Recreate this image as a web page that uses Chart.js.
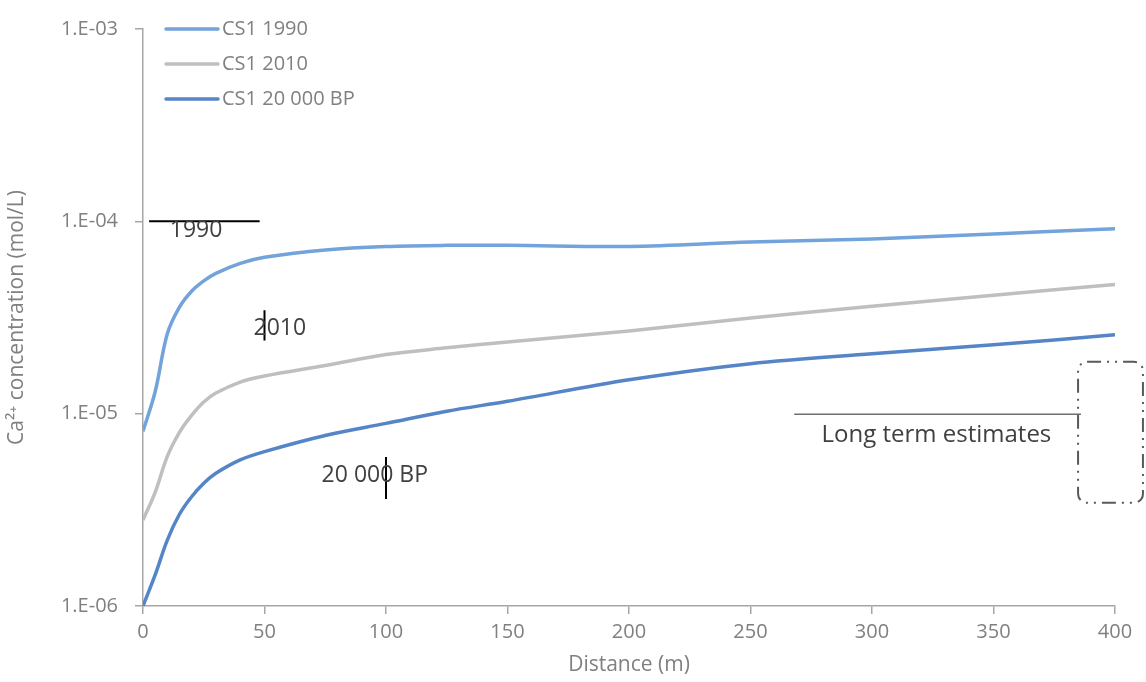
<!DOCTYPE html>
<html>
<head>
<meta charset="utf-8">
<script src="https://cdn.jsdelivr.net/npm/chart.js@4.4.1/dist/chart.umd.min.js"></script>
<style>
  html, body { margin: 0; padding: 0; background: #fff; }
  #wrap { width: 1146px; height: 682px; position: relative; }
</style>
</head>
<body>
<div id="wrap"><canvas id="caChart" width="1146" height="682"></canvas></div>
<script>
// distances (m) and Ca2+ concentrations (mol/L)
const distance = [0, 5, 10, 15, 20, 25, 30, 40, 50, 75, 100, 125, 150, 200, 250, 300, 350, 400];
const cs1990 = [8.1e-6, 1.3e-5, 2.6e-5, 3.58e-5, 4.33e-5, 4.9e-5, 5.36e-5, 6.04e-5, 6.5e-5, 7.1e-5, 7.4e-5, 7.5e-5, 7.5e-5, 7.4e-5, 7.8e-5, 8.1e-5, 8.6e-5, 9.15e-5];
const cs2010 = [2.8e-6, 3.9e-6, 6.0e-6, 8.0e-6, 9.8e-6, 1.15e-5, 1.28e-5, 1.46e-5, 1.57e-5, 1.78e-5, 2.03e-5, 2.2e-5, 2.36e-5, 2.69e-5, 3.14e-5, 3.62e-5, 4.13e-5, 4.7e-5];
const cs20000 = [1.0e-6, 1.45e-6, 2.2e-6, 3.0e-6, 3.7e-6, 4.35e-6, 4.9e-6, 5.75e-6, 6.35e-6, 7.7e-6, 8.9e-6, 1.03e-5, 1.16e-5, 1.5e-5, 1.82e-5, 2.05e-5, 2.28e-5, 2.57e-5];
const seriesNames = ['CS1 1990', 'CS1 2010', 'CS1 20 000 BP'];
const xTicks = [0, 50, 100, 150, 200, 250, 300, 350, 400];
const yTicks = [1e-6, 1e-5, 1e-4, 1e-3];
const yTickLabels = ['1.E-06', '1.E-05', '1.E-04', '1.E-03'];

const FONT = '"Open Sans", Lato, sans-serif';
const axisGrey = '#a6a6a6';
const textGrey = '#808080';
const noteColor = '#404040';

function pts(ys) {
  return distance.map((d, i) => ({ x: d, y: ys[i] }));
}

// legend drawn in the top-left corner of the plot
const legendPlugin = {
  id: 'cornerLegend',
  afterDraw(chart) {
    const ctx = chart.ctx;
    const area = chart.chartArea;
    ctx.save();
    chart.data.datasets.forEach((ds, i) => {
      const y = area.top + i * 35;
      ctx.strokeStyle = ds.borderColor;
      ctx.lineWidth = 3.5;
      ctx.lineCap = 'round';
      ctx.beginPath();
      ctx.moveTo(area.left + 23, y);
      ctx.lineTo(area.left + 75, y);
      ctx.stroke();
      ctx.fillStyle = textGrey;
      ctx.font = '20px ' + FONT;
      ctx.textBaseline = 'middle';
      ctx.textAlign = 'left';
      ctx.fillText(ds.label, area.left + 79, y);
    });
    ctx.restore();
  }
};

// period labels and markers
const notesPlugin = {
  id: 'notes',
  afterDraw(chart) {
    const ctx = chart.ctx;
    const xs = chart.scales.x;
    const ys = chart.scales.y;
    const px = v => xs.getPixelForValue(v);
    const py = v => ys.getPixelForValue(v);
    ctx.save();
    ctx.strokeStyle = '#000';
    ctx.lineWidth = 2;
    ctx.lineCap = 'butt';

    // 1990 marker
    ctx.beginPath();
    ctx.moveTo(px(2.5), py(1e-4));
    ctx.lineTo(px(48), py(1e-4));
    ctx.stroke();
    // 2010 marker
    ctx.beginPath();
    ctx.moveTo(px(50), py(3.45e-5));
    ctx.lineTo(px(50), py(2.4e-5));
    ctx.stroke();
    // 20 000 BP marker
    ctx.beginPath();
    ctx.moveTo(px(100), py(5.95e-6));
    ctx.lineTo(px(100), py(3.6e-6));
    ctx.stroke();

    ctx.fillStyle = noteColor;
    ctx.font = '23px ' + FONT;
    ctx.textBaseline = 'middle';
    ctx.textAlign = 'left';
    ctx.fillText('1990', px(11), py(1e-4) + 9);
    ctx.fillText('2010', px(45.5), py(2.76e-5));
    ctx.fillText('20 000 BP', px(73.5), py(4.8e-6));
    ctx.textAlign = 'center';
    ctx.font = '24px ' + FONT;
    ctx.fillText('Long term estimates', px(326.5), py(1e-5) + 21);

    // thin rule above "Long term estimates"
    ctx.strokeStyle = '#262626';
    ctx.lineWidth = 1;
    ctx.beginPath();
    ctx.moveTo(px(268), py(1e-5) + 0.5);
    ctx.lineTo(px(386), py(1e-5) + 0.5);
    ctx.stroke();

    // dash-dot rounded frame at the far end
    const x0 = px(384.8), x1 = px(411.5);
    const y0 = py(1.86e-5), y1 = py(3.44e-6);
    ctx.strokeStyle = '#595959';
    ctx.lineWidth = 2;
    ctx.setLineDash([14, 6, 2, 6, 2, 6]);
    ctx.beginPath();
    ctx.roundRect(x0, y0, x1 - x0, y1 - y0, 9);
    ctx.stroke();
    ctx.restore();
  }
};

new Chart(document.getElementById('caChart'), {
  type: 'line',
  data: {
    datasets: [
      { label: seriesNames[0], data: pts(cs1990), borderColor: '#72a3da' },
      { label: seriesNames[1], data: pts(cs2010), borderColor: '#bfbfbf' },
      { label: seriesNames[2], data: pts(cs20000), borderColor: '#5585c6' }
    ].map(ds => Object.assign(ds, {
      borderWidth: 3.5,
      pointRadius: 0,
      fill: false,
      tension: 0.35
    }))
  },
  options: {
    responsive: false,
    animation: false,
    devicePixelRatio: 1,
    layout: { padding: { top: 25, right: 31, left: 0, bottom: 0 } },
    plugins: {
      legend: { display: false },
      tooltip: { enabled: false }
    },
    scales: {
      x: {
        type: 'linear',
        min: 0,
        max: 400,
        afterBuildTicks: s => { s.ticks = xTicks.map(v => ({ value: v })); },
        afterFit: s => { s.height = 76; },
        grid: { drawOnChartArea: false, color: axisGrey, tickLength: 8, lineWidth: 1.5 },
        border: { color: axisGrey, width: 1.5 },
        ticks: { color: textGrey, font: { family: FONT, size: 20 }, padding: 6, maxRotation: 0 },
        title: { display: true, text: 'Distance (m)', color: textGrey, font: { family: FONT, size: 21 }, padding: { top: 0 } }
      },
      y: {
        type: 'logarithmic',
        min: 1e-6,
        max: 1e-3,
        afterBuildTicks: s => { s.ticks = yTicks.map(v => ({ value: v })); },
        afterFit: s => { s.width = 143; },
        grid: { drawOnChartArea: false, color: axisGrey, tickLength: 8, lineWidth: 1.5 },
        border: { color: axisGrey, width: 1.5 },
        ticks: {
          color: textGrey,
          font: { family: FONT, size: 20 },
          padding: 17,
          callback: (v) => {
            const i = yTicks.findIndex(t => Math.abs(t - v) / t < 1e-6);
            return i >= 0 ? yTickLabels[i] : '';
          }
        },
        title: { display: true, text: 'Ca²⁺ concentration (mol/L)', color: textGrey, font: { family: FONT, size: 21 }, padding: { bottom: 0 } }
      }
    }
  },
  plugins: [legendPlugin, notesPlugin]
});
</script>
</body>
</html>
